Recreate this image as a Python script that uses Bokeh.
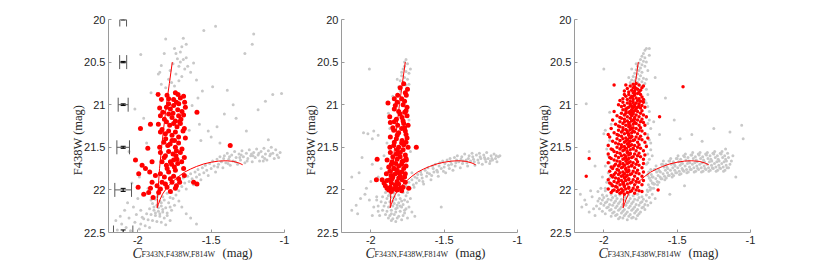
from bokeh.plotting import figure
from bokeh.layouts import row
from bokeh.models import FixedTicker, Label, Range1d
from bokeh.embed import file_html
from bokeh.resources import INLINE

# ---------------- data ----------------
x_ticks = [-2.0, -1.5, -1.0]
x_tick_labels = ["-2", "-1.5", "-1"]
y_ticks = [20.0, 20.5, 21.0, 21.5, 22.0, 22.5]
y_tick_labels = ["20", "20.5", "21", "21.5", "22", "22.5"]
y_title = "F438W (mag)"
x_title_main = "C"
x_title_sub = "F343N,F438W,F814W"
x_title_unit = "(mag)"

iso_x = [-1.765, -1.785, -1.805, -1.822, -1.838, -1.852, -1.862, -1.866, -1.868, -1.860, -1.848,
         -1.832, -1.812, -1.790, -1.760, -1.720, -1.680, -1.640, -1.600, -1.550, -1.500, -1.450,
         -1.400, -1.350, -1.310, -1.285]
iso_y = [20.50, 20.75, 21.00, 21.25, 21.50, 21.75, 22.00, 22.10, 22.21, 22.17, 22.11,
         22.05, 22.00, 21.95, 21.90, 21.84, 21.79, 21.755, 21.725, 21.695, 21.675, 21.662,
         21.658, 21.665, 21.685, 21.705]

err_y = [20.0, 20.5, 21.0, 21.5, 22.0, 22.5]
err_x = [-2.1, -2.1, -2.1, -2.1, -2.1, -2.1]
err_col = [0.023, 0.024, 0.034, 0.043, 0.057, 0.066]
err_mag = [0.006, 0.008, 0.010, 0.012, 0.018, 0.030]

gray1 = [
 (-1.55,20.13),(-1.47,20.08),(-1.21,20.17),(-1.69,20.22),(-1.67,20.29),(-1.81,20.23),(-1.75,20.34),(-1.74,20.40),
 (-1.71,20.38),(-1.70,20.32),(-1.82,20.40),(-1.84,20.54),(-1.85,20.62),(-1.86,20.64),(-1.98,20.41),(-1.73,20.46),
 (-1.71,20.50),(-1.69,20.47),(-1.67,20.45),(-1.66,20.55),(-1.68,20.58),(-1.72,20.55),(-1.76,20.52),(-1.78,20.60),
 (-1.74,20.64),(-1.70,20.67),(-1.79,20.70),(-1.77,20.74),(-1.75,20.78),(-1.72,20.72),(-1.81,20.80),(-1.84,20.76),
 (-1.64,20.62),(-1.60,20.71),(-1.56,20.84),(-1.49,20.79),(-1.39,20.83),(-1.27,20.40),(-1.22,20.29),(-1.13,20.96),
 (-1.08,20.88),(-1.02,20.87),(-1.91,20.86),(-2.02,21.05),(-1.63,21.01),(-1.58,21.23),(-1.52,21.31),(-1.46,21.26),
 (-1.41,21.11),(-1.33,21.16),(-1.26,21.31),(-1.18,21.06),(-1.11,21.41),(-1.35,21.00),(-1.62,20.51),(-1.59,20.92),
 (-1.50,21.38),(-1.44,21.45),(-1.57,21.42),(-1.65,21.30),(-1.96,21.16),(-2.06,21.55),(-1.99,21.85),(-1.94,21.45),
 (-1.73,21.93),(-1.72,22.01),(-1.71,21.89),(-1.70,21.96),(-1.69,21.86),(-1.68,21.92),(-1.67,21.99),(-1.66,21.84),
 (-1.65,21.90),(-1.64,21.81),(-1.63,21.87),(-1.62,21.94),(-1.61,21.79),(-1.60,21.85),(-1.59,21.76),(-1.58,21.82),
 (-1.57,21.88),(-1.56,21.74),(-1.55,21.80),(-1.54,21.71),(-1.53,21.77),(-1.52,21.83),(-1.51,21.69),(-1.50,21.75),
 (-1.49,21.66),(-1.48,21.72),(-1.47,21.79),(-1.46,21.64),(-1.45,21.70),(-1.44,21.61),(-1.43,21.67),(-1.42,21.74),
 (-1.41,21.60),(-1.40,21.68),(-1.39,21.57),(-1.38,21.64),(-1.37,21.71),(-1.36,21.59),(-1.35,21.66),(-1.34,21.55),
 (-1.33,21.62),(-1.32,21.70),(-1.31,21.58),(-1.30,21.65),(-1.29,21.54),(-1.28,21.61),(-1.27,21.68),(-1.26,21.57),
 (-1.25,21.63),(-1.24,21.53),(-1.23,21.60),(-1.22,21.67),(-1.21,21.56),(-1.20,21.62),(-1.19,21.52),(-1.18,21.59),
 (-1.17,21.66),(-1.16,21.55),(-1.15,21.61),(-1.14,21.51),(-1.13,21.58),(-1.12,21.65),(-1.11,21.54),(-1.10,21.60),
 (-1.09,21.50),(-1.08,21.57),(-1.07,21.63),(-1.06,21.53),(-1.05,21.59),(-1.04,21.62),(-1.03,21.56),
 (-1.455,21.73),(-1.415,21.63),(-1.375,21.61),(-1.335,21.67),(-1.295,21.59),(-1.255,21.66),(-1.215,21.60),
 (-1.175,21.57),(-1.135,21.63),(-1.095,21.58),(-1.385,21.69),(-1.305,21.62),(-1.225,21.58),(-1.145,21.66),
 (-1.86,22.05),(-1.83,22.08),(-1.80,22.04),(-1.78,22.09),(-1.88,22.11),(-1.85,22.13),(-1.82,22.12),(-1.79,22.15),
 (-1.76,22.10),(-1.90,22.16),(-1.87,22.18),(-1.84,22.19),(-1.81,22.21),(-1.78,22.20),(-1.92,22.22),(-1.89,22.24),
 (-1.86,22.25),(-1.83,22.26),(-1.80,22.27),(-1.94,22.28),(-1.91,22.29),(-1.88,22.30),(-1.85,22.31),(-1.82,22.33),
 (-1.96,22.34),(-1.93,22.35),(-1.90,22.36),(-1.87,22.37),(-1.84,22.38),(-1.98,22.40),(-1.95,22.42),(-1.92,22.44),
 (-1.86,22.21),(-1.83,22.23),(-1.88,22.27),(-1.85,22.28),(-1.80,22.30),(-1.77,22.24),(-1.75,22.18),(-1.74,22.06),
 (-1.77,22.03),(-1.72,22.13),(-1.70,22.20),(-1.67,22.28),(-1.64,22.33),(-1.60,22.40),(-1.78,22.36),(-1.81,22.41),
 (-1.89,22.20),(-1.91,22.12),(-1.84,22.15),(-1.87,22.08),
 (-2.14,22.47),(-2.11,22.40),(-2.08,22.44),(-2.05,22.48),(-2.02,22.38),(-1.99,22.46),(-2.12,22.31),(-2.06,22.33),
 (-2.01,22.29),(-2.09,22.24),(-2.03,22.20),(-1.98,22.24),(-2.15,22.36),(-2.07,22.15),(-1.97,22.32),(-2.00,22.10),
 (-1.95,22.05),(-1.93,21.98),(-2.04,21.92),
]

red1 = [
 (-1.862,20.88),(-1.801,20.89),(-1.744,20.86),(-1.726,20.88),(-1.688,20.90),
 (-1.839,20.94),(-1.790,20.93),(-1.756,20.94),(-1.710,20.92),(-1.681,20.97),(-1.737,20.97),(-1.721,20.99),
 (-1.851,21.04),(-1.805,21.03),(-1.778,21.05),(-1.756,21.01),(-1.728,21.06),(-1.699,21.08),(-1.676,21.03),(-1.597,21.09),
 (-1.846,21.13),(-1.819,21.17),(-1.790,21.11),(-1.767,21.15),(-1.744,21.19),(-1.722,21.13),(-1.706,21.17),(-1.688,21.12),
 (-1.805,21.20),(-1.783,21.24),(-1.756,21.22),(-1.733,21.26),(-1.715,21.20),(-1.683,21.28),(-1.835,21.29),
 (-1.914,21.23),(-1.982,21.28),
 (-1.846,21.32),(-1.812,21.34),(-1.790,21.31),(-1.767,21.36),(-1.744,21.32),(-1.722,21.38),(-1.692,21.31),(-1.676,21.39),
 (-1.823,21.44),(-1.796,21.48),(-1.767,21.42),(-1.744,21.50),(-1.722,21.45),(-1.699,21.52),(-1.851,21.50),(-1.932,21.51),
 (-1.846,21.56),(-1.812,21.60),(-1.790,21.55),(-1.760,21.58),(-1.733,21.64),(-1.710,21.56),(-1.737,21.54),(-1.683,21.62),
 (-2.016,21.65),(-1.971,21.71),(-1.903,21.67),(-1.948,21.75),
 (-1.835,21.67),(-1.805,21.71),(-1.778,21.67),(-1.751,21.73),(-1.728,21.69),(-1.701,21.67),(-1.688,21.75),(-1.756,21.65),
 (-1.370,21.48),
 (-1.919,21.79),(-1.880,21.83),(-1.846,21.81),(-1.819,21.85),(-1.790,21.79),(-1.756,21.84),(-1.722,21.87),(-1.744,21.77),
 (-1.683,21.83),(-1.994,21.81),
 (-1.903,21.91),(-1.869,21.95),(-1.835,21.91),(-1.801,21.97),(-1.767,21.91),(-1.737,21.95),(-1.715,21.91),(-1.914,21.98),
 (-1.846,21.99),(-1.812,21.93),(-1.778,21.87),
 (-1.620,21.91),(-1.597,21.93),(-1.998,21.97),
 (-1.926,22.03),(-1.896,22.09),(-1.858,22.03),(-1.778,22.02),(-1.744,21.98),(-1.960,22.05),
 (-1.81,21.40),(-1.78,21.46),(-1.75,21.42),(-1.82,21.62),(-1.77,21.70),(-1.80,21.75),(-1.74,21.60),(-1.71,21.22),
 (-1.76,21.10),(-1.79,20.99),(-1.83,21.09),(-1.86,21.23),
]

gray2 = [
 (-1.76,20.47),(-1.75,20.52),(-1.77,20.55),(-1.78,20.58),(-1.76,20.61),(-1.74,20.63),(-1.79,20.66),(-1.77,20.68),
 (-1.75,20.70),(-1.80,20.72),(-1.78,20.74),(-1.76,20.77),(-1.81,20.79),(-1.74,20.76),(-1.79,20.62),(-1.77,20.50),
 (-1.82,20.70),(-1.73,20.58),(-2.01,20.58),(-1.80,20.84),
 (-1.87,21.28),(-1.89,21.45),(-1.91,21.60),(-1.93,21.75),(-1.88,21.10),(-1.74,21.18),(-1.73,21.55),(-1.72,21.80),
 (-1.95,21.85),(-1.85,20.90),
 (-2.05,21.33),(-2.02,21.34),(-1.98,21.31),(-1.95,21.36),(-1.99,21.40),(-2.06,21.62),(-2.13,21.85),(-2.08,21.80),
 (-1.99,21.70),(-2.03,21.98),(-2.00,21.90),
 (-2.13,22.24),(-2.10,22.18),(-2.07,22.10),(-2.04,22.05),(-2.01,22.12),(-1.98,22.20),(-1.96,22.08),(-2.09,22.28),
 (-1.99,22.30),(-1.95,22.25),
 (-1.90,22.03),(-1.87,22.05),(-1.84,22.04),(-1.81,22.06),(-1.78,22.03),(-1.76,22.07),(-1.92,22.08),(-1.89,22.10),
 (-1.86,22.09),(-1.83,22.11),(-1.80,22.10),(-1.77,22.12),(-1.93,22.14),(-1.90,22.15),(-1.87,22.14),(-1.84,22.16),
 (-1.81,22.15),(-1.78,22.17),(-1.75,22.14),(-1.91,22.19),(-1.88,22.20),(-1.85,22.19),(-1.82,22.21),(-1.79,22.20),
 (-1.76,22.22),(-1.92,22.24),(-1.89,22.25),(-1.86,22.24),(-1.83,22.26),(-1.80,22.25),(-1.77,22.27),(-1.90,22.29),
 (-1.87,22.30),(-1.84,22.29),(-1.81,22.31),(-1.78,22.30),(-1.88,22.33),(-1.85,22.34),(-1.82,22.33),(-1.79,22.35),
 (-1.86,22.36),(-1.83,22.37),(-1.73,22.10),(-1.74,22.20),(-1.72,22.26),(-1.70,22.31),(-1.94,22.30),(-1.95,22.19),
 (-1.96,22.12),(-1.75,22.33),(-1.88,22.07),(-1.85,22.13),(-1.82,22.18),(-1.79,22.13),(-1.86,22.28),(-1.83,22.22),
 (-1.80,22.19),(-1.77,22.24),(-1.52,22.20),(-1.84,22.08),
 (-1.76,21.95),(-1.75,22.03),(-1.74,21.91),(-1.73,21.98),(-1.72,21.88),(-1.71,21.94),(-1.70,21.85),(-1.69,21.92),
 (-1.68,21.82),(-1.67,21.89),(-1.66,21.79),(-1.65,21.86),(-1.64,21.93),(-1.63,21.77),(-1.62,21.84),(-1.61,21.74),
 (-1.60,21.81),(-1.59,21.88),(-1.58,21.72),(-1.57,21.79),(-1.56,21.70),(-1.55,21.77),(-1.54,21.84),(-1.53,21.68),
 (-1.52,21.75),(-1.51,21.66),(-1.50,21.73),(-1.49,21.80),(-1.48,21.65),(-1.47,21.71),(-1.46,21.63),(-1.45,21.70),
 (-1.44,21.77),(-1.43,21.62),(-1.42,21.68),(-1.41,21.60),(-1.40,21.67),(-1.39,21.74),(-1.38,21.61),(-1.37,21.66),
 (-1.36,21.58),(-1.35,21.65),(-1.34,21.72),(-1.33,21.60),(-1.32,21.66),(-1.31,21.57),(-1.30,21.64),(-1.29,21.71),
 (-1.28,21.59),(-1.27,21.65),(-1.26,21.57),(-1.25,21.63),(-1.24,21.70),(-1.23,21.59),(-1.22,21.64),(-1.21,21.56),
 (-1.20,21.63),(-1.19,21.69),(-1.18,21.60),(-1.17,21.65),(-1.16,21.58),(-1.15,21.63),(-1.14,21.67),(-1.13,21.61),
 (-1.12,21.60),
 (-1.655,21.82),(-1.615,21.80),(-1.575,21.75),(-1.535,21.72),(-1.495,21.69),(-1.455,21.67),(-1.415,21.65),
 (-1.375,21.69),(-1.335,21.63),(-1.295,21.67),(-1.255,21.61),(-1.215,21.67),(-1.175,21.63),(-1.145,21.60),
 (-1.465,21.75),(-1.425,21.72),(-1.385,21.64),(-1.345,21.68),(-1.305,21.61),(-1.265,21.68),(-1.225,21.62),
 (-1.185,21.66),(-1.705,21.97),(-1.685,21.86),(-1.645,21.90),(-1.585,21.83),(-1.545,21.79),(-1.505,21.78),
]

red2 = [
 (-1.776,20.755),(-1.765,20.86),(-1.817,20.89),(-1.758,20.89),(-1.883,20.98),(-1.833,21.01),(-1.780,21.00),(-1.753,21.03),
 (-1.810,21.08),(-1.769,21.09),(-1.871,21.14),(-1.826,21.17),(-1.787,21.15),(-1.753,21.13),(-1.867,21.21),(-1.817,21.24),
 (-1.776,21.22),(-1.746,21.24),(-1.844,21.30),(-1.810,21.33),(-1.765,21.31),(-1.867,21.38),(-1.826,21.40),(-1.787,21.42),
 (-1.753,21.39),(-1.844,21.48),(-1.810,21.50),(-1.776,21.47),(-1.746,21.50),(-1.690,21.50),(-1.867,21.56),(-1.826,21.58),
 (-1.799,21.56),(-1.765,21.59),(-1.957,21.64),(-1.889,21.65),(-1.855,21.67),(-1.821,21.64),(-1.787,21.67),(-1.758,21.65),
 (-1.878,21.73),(-1.844,21.75),(-1.810,21.72),(-1.776,21.75),(-1.894,21.81),(-1.862,21.83),(-1.833,21.81),(-1.799,21.84),
 (-1.765,21.81),(-1.962,21.88),(-1.923,21.88),(-1.889,21.89),(-1.855,21.87),(-1.821,21.90),(-1.787,21.88),(-1.765,21.91),
 (-1.901,21.95),(-1.867,21.97),(-1.833,21.94),(-1.799,21.98),(-1.742,21.98),(-1.878,22.00),(-1.821,22.00),(-1.780,21.97),
 (-1.80,20.80),(-1.79,20.93),(-1.77,20.96),(-1.84,21.05),(-1.80,21.11),(-1.78,21.19),(-1.85,21.27),(-1.79,21.28),
 (-1.76,21.35),(-1.84,21.44),(-1.79,21.45),(-1.82,21.53),(-1.78,21.53),(-1.85,21.61),(-1.80,21.61),(-1.76,21.63),
 (-1.86,21.70),(-1.83,21.69),(-1.79,21.70),(-1.76,21.72),(-1.87,21.78),(-1.82,21.77),(-1.79,21.79),(-1.85,21.85),
 (-1.81,21.86),(-1.77,21.85),(-1.91,21.92),(-1.86,21.92),(-1.81,21.93),(-1.84,21.99),(-1.89,21.98),(-1.79,22.01),
 (-1.86,22.02),(-1.83,21.96),(-1.87,21.88),(-1.81,21.80),(-1.84,21.75),(-1.78,21.66),(-1.82,21.58),(-1.87,21.50),
 (-1.76,21.44),(-1.82,21.36),(-1.77,21.27),(-1.84,21.20),(-1.76,21.07),(-1.82,20.97),(-1.75,20.82),(-1.84,20.93),
]

gray3 = [
 (-1.72,20.36),(-1.71,20.34),(-1.73,20.40),(-1.74,20.43),(-1.72,20.45),(-1.75,20.47),(-1.73,20.49),(-1.76,20.51),
 (-1.74,20.53),(-1.72,20.55),(-1.77,20.55),(-1.75,20.57),(-1.78,20.59),(-1.76,20.60),(-1.74,20.62),(-1.79,20.63),
 (-1.77,20.64),(-1.75,20.66),(-1.80,20.67),(-1.78,20.68),(-1.73,20.69),(-1.76,20.70),(-1.81,20.71),(-1.79,20.72),
 (-1.74,20.73),(-1.77,20.74),(-1.82,20.74),(-1.72,20.75),(-1.80,20.76),(-1.75,20.78),(-1.71,20.50),(-1.70,20.60),
 (-1.81,20.58),(-1.83,20.68),(-1.71,20.70),(-1.78,20.52),(-1.69,20.42),
 (-1.71,20.82),(-1.70,20.88),(-1.72,20.95),(-1.70,21.02),(-1.69,21.08),(-1.71,21.15),(-1.70,21.22),(-1.68,21.28),
 (-1.70,21.35),(-1.69,21.41),(-1.71,21.47),(-1.68,21.53),(-1.70,21.58),(-1.69,21.64),(-1.71,21.70),(-1.68,21.76),
 (-1.70,21.82),(-1.69,21.86),(-1.67,21.92),(-1.71,20.98),(-1.69,21.18),(-1.68,21.45),(-1.70,21.68),(-1.67,21.60),
 (-1.66,21.20),
 (-1.96,21.68),(-1.95,21.74),(-1.97,21.80),(-1.96,21.86),(-1.98,21.91),(-1.95,21.95),(-1.99,21.72),(-1.97,21.60),
 (-1.98,21.52),(-1.99,21.98),(-2.01,21.85),(-1.96,21.42),(-1.99,21.30),(-1.95,21.23),
 (-1.69,20.34),(-2.00,20.58),(-2.12,20.99),(-1.96,21.09),(-2.00,21.34),(-1.97,21.47),(-1.06,21.24),(-1.14,21.32),
 (-1.05,21.40),(-1.58,20.92),(-1.52,21.18),(-1.40,21.35),(-1.25,21.28),(-1.62,21.35),(-1.10,21.85),(-1.55,22.05),
 (-1.45,21.95),(-2.06,21.72),(-2.10,21.55),(-1.65,20.68),(-1.48,21.40),(-1.33,21.43),
 (-2.01,22.06),(-1.98,22.07),(-1.95,22.05),(-1.92,22.07),(-1.89,22.06),(-1.86,22.08),(-1.83,22.06),(-1.80,22.07),
 (-1.77,22.05),(-1.74,22.08),(-1.71,22.06),
 (-2.03,22.10),(-2.00,22.09),(-1.97,22.11),(-1.94,22.09),(-1.91,22.10),(-1.88,22.11),(-1.85,22.09),(-1.82,22.10),
 (-1.79,22.11),(-1.76,22.09),(-1.73,22.11),
 (-2.04,22.13),(-2.01,22.12),(-1.98,22.14),(-1.95,22.12),(-1.92,22.13),(-1.89,22.14),(-1.86,22.12),(-1.83,22.13),
 (-1.80,22.14),(-1.77,22.12),(-1.74,22.14),(-1.71,22.13),
 (-2.02,22.16),(-1.99,22.15),(-1.96,22.17),(-1.93,22.15),(-1.90,22.16),(-1.87,22.17),(-1.84,22.15),(-1.81,22.16),
 (-1.78,22.17),(-1.75,22.15),(-1.72,22.17),
 (-2.05,22.19),(-2.00,22.18),(-1.97,22.20),(-1.94,22.18),(-1.91,22.19),(-1.88,22.20),(-1.85,22.18),(-1.82,22.19),
 (-1.79,22.20),(-1.76,22.18),(-1.73,22.20),
 (-2.03,22.22),(-1.98,22.21),(-1.95,22.23),(-1.92,22.21),(-1.89,22.22),(-1.86,22.23),(-1.83,22.21),(-1.80,22.22),
 (-1.77,22.23),(-1.74,22.21),
 (-2.01,22.25),(-1.96,22.24),(-1.93,22.26),(-1.90,22.24),(-1.87,22.25),(-1.84,22.26),(-1.81,22.24),(-1.78,22.25),
 (-1.75,22.26),
 (-1.99,22.28),(-1.94,22.27),(-1.91,22.29),(-1.88,22.27),(-1.85,22.28),(-1.82,22.29),(-1.79,22.27),(-1.76,22.28),
 (-1.95,22.31),(-1.92,22.30),(-1.89,22.32),(-1.86,22.30),(-1.83,22.31),(-1.80,22.32),(-1.77,22.30),
 (-1.90,22.34),(-1.87,22.33),(-1.84,22.35),(-1.81,22.33),(-1.78,22.34),
 (-2.16,22.05),(-2.13,22.12),(-2.15,22.20),(-2.10,22.26),(-2.12,22.17),(-2.08,22.08),(-2.07,22.22),(-2.09,22.01),
 (-2.06,22.30),(-2.04,22.02),(-2.02,21.98),(-1.99,22.01),
 (-1.70,22.02),(-1.69,22.09),(-1.68,22.15),(-1.66,21.98),(-1.67,22.05),(-1.65,22.10),(-1.72,22.23),(-1.70,22.18),
 (-1.700,21.83),(-1.696,21.94),(-1.704,22.00),(-1.690,21.86),(-1.686,21.97),(-1.694,21.79),(-1.680,21.89),(-1.676,21.82),
 (-1.684,22.00),(-1.670,21.85),(-1.666,21.92),(-1.674,21.98),(-1.660,21.93),(-1.656,21.76),(-1.664,21.85),(-1.650,21.76),
 (-1.646,21.87),(-1.654,21.93),(-1.640,21.79),(-1.636,21.90),(-1.644,21.72),(-1.630,21.83),(-1.626,21.76),(-1.634,21.94),
 (-1.620,21.78),(-1.616,21.85),(-1.624,21.91),(-1.610,21.87),(-1.606,21.70),(-1.614,21.79),(-1.600,21.70),(-1.596,21.81),
 (-1.604,21.87),(-1.590,21.73),(-1.586,21.84),(-1.594,21.66),(-1.580,21.77),(-1.576,21.70),(-1.584,21.88),(-1.570,21.73),
 (-1.566,21.80),(-1.574,21.86),(-1.560,21.83),(-1.556,21.66),(-1.564,21.75),(-1.550,21.66),(-1.546,21.77),(-1.554,21.83),
 (-1.540,21.70),(-1.536,21.81),(-1.544,21.63),(-1.530,21.74),(-1.526,21.67),(-1.534,21.85),(-1.520,21.70),(-1.516,21.77),
 (-1.524,21.83),(-1.510,21.80),(-1.506,21.63),(-1.514,21.72),(-1.500,21.63),(-1.496,21.74),(-1.504,21.80),(-1.490,21.67),
 (-1.486,21.78),(-1.494,21.60),(-1.480,21.71),(-1.476,21.64),(-1.484,21.82),(-1.470,21.68),(-1.466,21.75),(-1.474,21.81),
 (-1.460,21.77),(-1.456,21.60),(-1.464,21.69),(-1.450,21.61),(-1.446,21.72),(-1.454,21.78),(-1.440,21.65),(-1.436,21.76),
 (-1.444,21.58),(-1.430,21.69),(-1.426,21.62),(-1.434,21.80),(-1.420,21.66),(-1.416,21.73),(-1.424,21.79),(-1.410,21.76),
 (-1.406,21.59),(-1.414,21.68),(-1.400,21.59),(-1.396,21.70),(-1.404,21.76),(-1.390,21.63),(-1.386,21.74),(-1.394,21.56),
 (-1.380,21.68),(-1.376,21.61),(-1.384,21.79),(-1.370,21.65),(-1.366,21.72),(-1.374,21.78),(-1.360,21.75),(-1.356,21.58),
 (-1.364,21.67),(-1.350,21.59),(-1.346,21.70),(-1.354,21.76),(-1.340,21.63),(-1.336,21.74),(-1.344,21.56),(-1.330,21.68),
 (-1.326,21.61),(-1.334,21.79),(-1.320,21.65),(-1.316,21.72),(-1.324,21.78),(-1.310,21.75),(-1.306,21.58),(-1.314,21.67),
 (-1.300,21.59),(-1.296,21.70),(-1.304,21.76),(-1.290,21.63),(-1.286,21.74),(-1.294,21.56),(-1.280,21.67),(-1.276,21.60),
 (-1.284,21.78),(-1.270,21.64),(-1.266,21.71),(-1.274,21.77),(-1.260,21.74),(-1.256,21.57),(-1.264,21.66),(-1.250,21.58),
 (-1.246,21.69),(-1.254,21.75),(-1.240,21.62),(-1.236,21.73),(-1.244,21.55),(-1.230,21.67),(-1.226,21.60),(-1.234,21.78),
 (-1.220,21.64),(-1.216,21.71),(-1.224,21.77),(-1.210,21.74),(-1.206,21.57),(-1.214,21.66),(-1.200,21.58),(-1.196,21.69),
 (-1.204,21.75),(-1.190,21.62),(-1.186,21.73),(-1.194,21.55),(-1.180,21.67),(-1.176,21.60),(-1.184,21.78),(-1.170,21.64),
 (-1.166,21.71),(-1.174,21.77),(-1.160,21.74),(-1.156,21.57),(-1.164,21.66),
 (-1.15,21.62),(-1.14,21.70),(-1.13,21.66),(-1.12,21.60),(-1.15,21.74),(-1.17,21.52),
]

red3 = [
 (-1.80,20.76),(-1.78,20.75),(-1.76,20.77),(-1.82,20.78),(-1.79,20.79),(-1.74,20.80),(-1.84,20.81),(-1.77,20.82),
 (-1.81,20.83),(-1.75,20.83),(-1.79,20.84),(-1.83,20.85),(-1.76,20.85),(-1.86,20.84),(-1.78,20.81),(-1.80,20.80),
 (-1.73,20.78),(-1.85,20.77),(-1.93,20.77),(-1.46,20.79),(-1.62,21.14),(-2.10,21.63),(-2.12,21.84),(-1.63,22.00),
 (-1.80,20.86),(-1.77,20.87),(-1.83,20.88),(-1.75,20.88),(-1.79,20.89),(-1.85,20.90),(-1.81,20.90),(-1.74,20.91),
 (-1.78,20.92),(-1.82,20.92),(-1.76,20.93),(-1.87,20.93),(-1.80,20.94),(-1.84,20.94),(-1.77,20.95),(-1.73,20.94),
 (-1.79,20.87),(-1.82,20.96),(-1.86,20.88),(-1.75,20.96),(-1.81,20.91),(-1.89,20.95),
 (-1.80,20.97),(-1.78,20.98),(-1.84,20.98),(-1.76,20.99),(-1.82,21.00),(-1.79,21.00),(-1.86,21.01),(-1.74,21.01),
 (-1.81,21.02),(-1.77,21.03),(-1.83,21.03),(-1.88,21.02),(-1.80,21.04),(-1.75,21.04),(-1.85,21.05),(-1.78,21.05),
 (-1.82,20.99),(-1.73,20.97),(-1.90,21.00),(-1.79,21.02),(-1.76,21.01),(-1.84,21.04),(-1.87,20.97),(-1.72,21.03),
 (-1.81,21.06),(-1.79,21.07),(-1.85,21.07),(-1.77,21.08),(-1.83,21.09),(-1.80,21.09),(-1.88,21.10),(-1.75,21.10),
 (-1.82,21.11),(-1.78,21.12),(-1.86,21.12),(-1.91,21.13),(-1.81,21.13),(-1.76,21.14),(-1.84,21.14),(-1.79,21.15),
 (-1.73,21.12),(-1.87,21.06),(-1.82,21.08),(-1.89,21.15),(-1.74,21.07),(-1.80,21.11),(-1.85,21.10),(-1.93,21.08),
 (-1.71,21.14),
 (-1.82,21.16),(-1.79,21.17),(-1.86,21.17),(-1.77,21.18),(-1.84,21.19),(-1.81,21.19),(-1.89,21.20),(-1.75,21.20),
 (-1.83,21.21),(-1.78,21.22),(-1.87,21.22),(-1.92,21.23),(-1.80,21.23),(-1.76,21.24),(-1.85,21.24),(-1.82,21.25),
 (-1.73,21.21),(-1.88,21.16),(-1.80,21.18),(-1.90,21.25),(-1.74,21.17),(-1.83,21.23),(-1.86,21.20),(-1.94,21.18),
 (-1.72,21.24),(-1.79,21.21),
 (-1.83,21.26),(-1.80,21.27),(-1.87,21.27),(-1.78,21.28),(-1.85,21.29),(-1.82,21.29),(-1.90,21.30),(-1.76,21.30),
 (-1.84,21.31),(-1.79,21.32),(-1.88,21.32),(-1.93,21.33),(-1.81,21.33),(-1.77,21.34),(-1.86,21.34),(-1.83,21.35),
 (-1.74,21.31),(-1.89,21.26),(-1.81,21.28),(-1.91,21.35),(-1.75,21.27),(-1.84,21.33),(-1.87,21.30),(-1.95,21.28),
 (-1.72,21.34),(-1.80,21.31),(-1.97,21.35),
 (-1.83,21.36),(-1.81,21.37),(-1.88,21.37),(-1.78,21.38),(-1.85,21.39),(-1.82,21.39),(-1.91,21.40),(-1.76,21.40),
 (-1.84,21.41),(-1.80,21.42),(-1.89,21.42),(-1.94,21.43),(-1.82,21.43),(-1.77,21.44),(-1.86,21.44),(-1.83,21.45),
 (-1.74,21.41),(-1.90,21.36),(-1.81,21.38),(-1.92,21.45),(-1.75,21.37),(-1.85,21.43),(-1.87,21.40),(-1.96,21.38),
 (-1.72,21.44),(-1.79,21.41),(-1.70,21.39),
 (-1.84,21.46),(-1.81,21.47),(-1.88,21.47),(-1.79,21.48),(-1.86,21.49),(-1.83,21.49),(-1.91,21.50),(-1.77,21.50),
 (-1.85,21.51),(-1.80,21.52),(-1.89,21.52),(-1.94,21.53),(-1.82,21.53),(-1.78,21.54),(-1.87,21.54),(-1.84,21.55),
 (-1.75,21.51),(-1.90,21.46),(-1.82,21.48),(-1.93,21.55),(-1.76,21.47),(-1.86,21.53),(-1.88,21.50),(-1.97,21.48),
 (-1.73,21.54),(-1.80,21.51),(-1.71,21.49),(-1.95,21.52),
 (-1.84,21.56),(-1.82,21.57),(-1.89,21.57),(-1.79,21.58),(-1.86,21.59),(-1.83,21.59),(-1.92,21.60),(-1.77,21.60),
 (-1.85,21.61),(-1.81,21.62),(-1.90,21.62),(-1.95,21.63),(-1.83,21.63),(-1.78,21.64),(-1.87,21.64),(-1.84,21.65),
 (-1.75,21.61),(-1.91,21.56),(-1.82,21.58),(-1.93,21.65),(-1.76,21.57),(-1.86,21.63),(-1.88,21.60),(-1.97,21.58),
 (-1.73,21.64),(-1.80,21.61),(-1.72,21.59),(-1.96,21.62),
 (-1.85,21.66),(-1.82,21.67),(-1.89,21.67),(-1.80,21.68),(-1.87,21.69),(-1.84,21.69),(-1.92,21.70),(-1.78,21.70),
 (-1.86,21.71),(-1.81,21.72),(-1.90,21.72),(-1.95,21.73),(-1.83,21.73),(-1.79,21.74),(-1.88,21.74),(-1.85,21.75),
 (-1.76,21.71),(-1.91,21.66),(-1.83,21.68),(-1.94,21.75),(-1.77,21.67),(-1.87,21.73),(-1.89,21.70),(-1.97,21.68),
 (-1.74,21.74),(-1.81,21.71),(-1.73,21.69),(-1.93,21.72),
 (-1.85,21.76),(-1.83,21.77),(-1.90,21.77),(-1.80,21.78),(-1.87,21.79),(-1.84,21.79),(-1.92,21.80),(-1.78,21.80),
 (-1.86,21.81),(-1.82,21.82),(-1.90,21.82),(-1.95,21.83),(-1.84,21.83),(-1.79,21.84),(-1.88,21.84),(-1.85,21.85),
 (-1.76,21.81),(-1.91,21.76),(-1.83,21.78),(-1.94,21.85),(-1.77,21.77),(-1.87,21.83),(-1.89,21.80),(-1.96,21.78),
 (-1.74,21.84),(-1.81,21.81),(-1.73,21.79),(-1.93,21.82),
 (-1.86,21.86),(-1.83,21.87),(-1.90,21.87),(-1.80,21.88),(-1.88,21.89),(-1.85,21.89),(-1.93,21.90),(-1.78,21.90),
 (-1.87,21.91),(-1.82,21.92),(-1.91,21.92),(-1.95,21.93),(-1.84,21.93),(-1.79,21.94),(-1.89,21.94),(-1.86,21.95),
 (-1.76,21.91),(-1.92,21.86),(-1.83,21.88),(-1.94,21.95),(-1.77,21.87),(-1.87,21.93),(-1.90,21.90),(-1.97,21.88),
 (-1.74,21.94),(-1.81,21.91),(-1.73,21.89),(-1.96,21.92),
 (-1.86,21.96),(-1.83,21.97),(-1.91,21.97),(-1.80,21.98),(-1.88,21.99),(-1.85,21.99),(-1.93,22.00),(-1.78,22.00),
 (-1.87,22.01),(-1.82,22.02),(-1.91,22.02),(-1.95,22.03),(-1.84,22.03),(-1.79,22.04),(-1.89,22.04),(-1.86,22.05),
 (-1.76,22.01),(-1.92,21.96),(-1.83,21.98),(-1.94,22.01),(-1.77,21.97),(-1.88,22.03),(-1.90,22.00),(-1.97,21.99),
 (-1.74,22.02),(-1.81,22.01),
]

# ---------------- styling / layout ----------------
FRAME_W, FRAME_H = 176, 213          # area spanned by -2.2..-1 and 20..22.5 mag
EXTRA_R = 10                         # room right of x=-1 so its tick label is not clipped
TOP = 19                             # page row of the y=20 line
CANVAS_H = 260
X_START, X_END = -2.2, -1.0
Y_TOP, Y_BOTTOM = 20.0, 22.5
PX_X = (X_END - X_START) / FRAME_W
PX_Y = (Y_BOTTOM - Y_TOP) / FRAME_H
X_FRAME_END = X_END + EXTRA_R * PX_X
Y_LOW = Y_TOP + (CANVAS_H - TOP) * PX_Y   # frame continues below the x axis to hold its title
GRAY = "#c8c8c8"
AXIS_COL = "#9a9a9a"
TEXT_COL = "#262626"


def clamp(v):
    return min(max(v, Y_TOP), Y_BOTTOM)


def make_panel(gray, red, red_size, left, with_err=False):
    right = 2
    p = figure(width=left + FRAME_W + EXTRA_R + right, height=CANVAS_H,
               min_border_left=left, min_border_right=right,
               min_border_top=TOP, min_border_bottom=0,
               x_range=Range1d(X_START, X_FRAME_END), y_range=Range1d(Y_LOW, Y_TOP),
               output_backend="svg", toolbar_location=None)
    p.xgrid.visible = False
    p.ygrid.visible = False
    p.outline_line_color = None
    p.background_fill_color = "white"
    p.border_fill_color = "white"

    for ax in (p.xaxis[0], p.yaxis[0]):
        ax.axis_line_color = AXIS_COL
        ax.major_tick_line_color = AXIS_COL
        ax.minor_tick_line_color = None
        ax.major_tick_in = 3
        ax.major_tick_out = 0
        ax.major_label_text_font = "Liberation Sans"
        ax.major_label_text_font_size = "11px"
        ax.major_label_text_color = TEXT_COL
        ax.major_label_standoff = 3
    p.xaxis.fixed_location = Y_BOTTOM
    p.xaxis.bounds = (X_START, X_END)
    p.yaxis.bounds = (Y_TOP, Y_BOTTOM)
    p.xaxis.ticker = FixedTicker(ticks=x_ticks)
    p.yaxis.ticker = FixedTicker(ticks=y_ticks)
    p.xaxis.major_label_overrides = dict(zip(x_ticks, x_tick_labels))
    p.yaxis.major_label_overrides = dict(zip(y_ticks, y_tick_labels))
    p.yaxis.axis_label = y_title
    p.yaxis.axis_label_text_font = "Liberation Serif"
    p.yaxis.axis_label_text_font_style = "normal"
    p.yaxis.axis_label_text_font_size = "12.5px"
    p.yaxis.axis_label_text_color = TEXT_COL
    p.yaxis.axis_label_standoff = -4

    gx = [a for a, b in gray]
    gy = [b for a, b in gray]
    p.scatter(gx, gy, size=3, fill_color=GRAY, line_color=None)
    p.line(iso_x, iso_y, line_color="red", line_width=1)
    rx = [a for a, b in red]
    ry = [b for a, b in red]
    p.scatter(rx, ry, size=red_size, fill_color="red", line_color=None)

    if with_err:
        cap_h = 7 * PX_Y
        cap_w = 2.5 * PX_X
        x0 = []; y0 = []; x1 = []; y1 = []
        for xc, yc, ec in zip(err_x, err_y, err_col):
            x0 += [xc - ec, xc - ec, xc + ec]
            x1 += [xc + ec, xc - ec, xc + ec]
            y0 += [yc, clamp(yc - cap_h), clamp(yc - cap_h)]
            y1 += [yc, clamp(yc + cap_h), clamp(yc + cap_h)]
        p.segment(x0, y0, x1, y1, line_color="#5a5a5a", line_width=1)
        vx0 = []; vy0 = []; vx1 = []; vy1 = []
        for xc, yc, em in zip(err_x, err_y, err_mag):
            vx0 += [xc, xc - cap_w, xc - cap_w]
            vx1 += [xc, xc + cap_w, xc + cap_w]
            vy0 += [clamp(yc - em), yc - em, yc + em]
            vy1 += [clamp(yc + em), yc - em, yc + em]
        keep = [i for i in range(len(vy0)) if Y_TOP <= vy0[i] <= Y_BOTTOM]
        p.segment([vx0[i] for i in keep], [vy0[i] for i in keep],
                  [vx1[i] for i in keep], [vy1[i] for i in keep],
                  line_color="black", line_width=1)

    # x-axis title: italic C with a small subscript, then the unit
    base_y = Y_BOTTOM + 21 * PX_Y
    common = dict(text_font="Liberation Serif", text_color=TEXT_COL,
                  text_baseline="alphabetic", text_align="left")
    p.add_layout(Label(x=X_START + 24 * PX_X, y=base_y, text=x_title_main,
                       text_font_style="italic", text_font_size="14px", **common))
    p.add_layout(Label(x=X_START + 33 * PX_X, y=base_y + 1 * PX_Y, text=x_title_sub,
                       text_font_size="8px", **common))
    p.add_layout(Label(x=X_START + 114 * PX_X, y=base_y - 1 * PX_Y, text=x_title_unit,
                       text_font_size="12.5px", **common))
    return p


p1 = make_panel(gray1, red1, 5, 108, with_err=True)
p2 = make_panel(gray2, red2, 5, 45)
p3 = make_panel(gray3, red3, 3.5, 45)

layout = row(p1, p2, p3, spacing=0)
open("out.html", "w").write(file_html(layout, INLINE))
